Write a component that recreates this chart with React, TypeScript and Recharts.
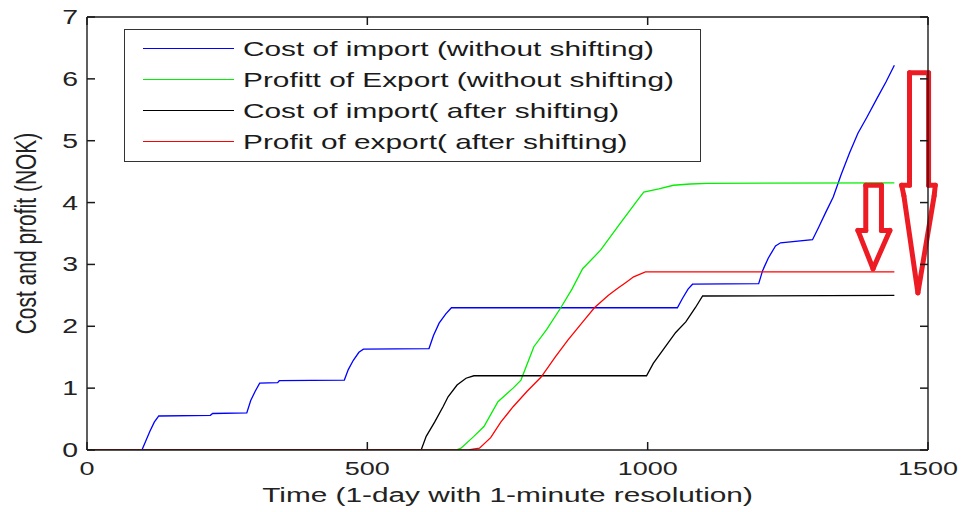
import type { JSX } from 'react';
import { LineChart, Line, XAxis, YAxis, Legend, Label, ReferenceLine } from 'recharts';

const xTicks = [0, 500, 1000, 1500];
const yTicks = [0, 1, 2, 3, 4, 5, 6, 7];

// minutes of the day / NOK
const importBeforeT = [0, 98, 105, 112, 120, 128, 220, 224, 285, 292, 300, 308, 340, 343, 459, 466, 475, 485, 493, 610, 618, 628, 640, 650, 1053, 1062, 1072, 1080, 1198, 1205, 1215, 1228, 1237, 1294, 1305, 1318, 1331, 1345, 1360, 1375, 1391, 1410, 1425, 1440];
const importBeforeV = [0, 0, 0.15, 0.3, 0.45, 0.55, 0.56, 0.59, 0.6, 0.8, 0.95, 1.08, 1.09, 1.12, 1.13, 1.3, 1.45, 1.58, 1.63, 1.64, 1.85, 2.05, 2.2, 2.3, 2.3, 2.45, 2.6, 2.68, 2.69, 2.9, 3.1, 3.3, 3.35, 3.4, 3.6, 3.85, 4.09, 4.45, 4.8, 5.12, 5.38, 5.7, 5.95, 6.22];

const exportBeforeT = [0, 658, 667, 690, 708, 733, 760, 774, 797, 820, 845, 865, 884, 916, 950, 982, 993, 1020, 1046, 1076, 1107, 1440];
const exportBeforeV = [0, 0, 0.03, 0.22, 0.38, 0.78, 1.0, 1.13, 1.67, 1.95, 2.3, 2.6, 2.93, 3.23, 3.65, 4.04, 4.17, 4.22, 4.28, 4.3, 4.31, 4.32];

const importAfterT = [0, 596, 605, 620, 635, 644, 660, 676, 690, 998, 1010, 1030, 1050, 1068, 1085, 1098, 1440];
const importAfterV = [0, 0, 0.22, 0.45, 0.7, 0.86, 1.05, 1.16, 1.2, 1.2, 1.4, 1.65, 1.9, 2.07, 2.3, 2.49, 2.5];

const exportAfterT = [0, 680, 700, 720, 738, 760, 785, 810, 835, 858, 885, 905, 930, 946, 960, 975, 996, 1440];
const exportAfterV = [0, 0, 0.03, 0.2, 0.45, 0.7, 0.95, 1.18, 1.5, 1.78, 2.08, 2.3, 2.5, 2.61, 2.7, 2.8, 2.88, 2.88];

// outline of the two red annotation arrows, in data units
const bigArrowT = [1467, 1501, 1501, 1513, 1511, 1482, 1457, 1453, 1467, 1467];
const bigArrowV = [6.1, 6.1, 4.28, 4.28, 4.11, 2.54, 4.11, 4.28, 4.28, 6.1];
const smallArrowT = [1389, 1417, 1417, 1432, 1402, 1375, 1389, 1389];
const smallArrowV = [4.28, 4.28, 3.55, 3.55, 2.93, 3.55, 3.55, 4.28];

const series = [
  { key: 'ib', name: 'Cost of import (without shifting)', color: '#0000ff', t: importBeforeT, v: importBeforeV },
  { key: 'eb', name: 'Profitt of Export (without shifting)', color: '#00f000', t: exportBeforeT, v: exportBeforeV },
  { key: 'ia', name: 'Cost of import( after shifting)', color: '#000000', t: importAfterT, v: importAfterV },
  { key: 'ea', name: 'Profit of export( after shifting)', color: '#ff0000', t: exportAfterT, v: exportAfterV },
];

const FONT = '"Liberation Sans", Arial, sans-serif';
const STRETCH = 1.42;
const AXIS = '#1a1a1a';
const TICK = 8;

function toPoints(t: number[], v: number[]) {
  return t.map((x, i) => ({ t: x, v: v[i] }));
}

function toSegments(t: number[], v: number[]) {
  const segs = [];
  for (let i = 0; i < t.length - 1; i++) {
    segs.push([{ x: t[i], y: v[i] }, { x: t[i + 1], y: v[i + 1] }]);
  }
  return segs;
}

// bottom: label sits 12px under the axis line, tick mark points up into the plot
function XTick({ x, y, payload }: any): JSX.Element {
  return (
    <g>
      <line x1={x} x2={x} y1={y - 12} y2={y - 12 - TICK} stroke={AXIS} strokeWidth={1.5} />
      <text transform={`translate(${x},${y}) scale(${STRETCH},1)`} textAnchor="middle" dy={13} fontSize={19} fontFamily={FONT} fill="#222">
        {payload.value}
      </text>
    </g>
  );
}

function YTick({ x, y, payload }: any): JSX.Element {
  return (
    <g>
      <line x1={x + 9} x2={x + 9 + TICK} y1={y} y2={y} stroke={AXIS} strokeWidth={1.5} />
      <text transform={`translate(${x},${y}) scale(${STRETCH},1)`} textAnchor="end" dy={7} fontSize={20} fontFamily={FONT} fill="#222">
        {payload.value}
      </text>
    </g>
  );
}

function TopTick({ x, y }: any): JSX.Element {
  return <line x1={x} x2={x} y1={y} y2={y + TICK} stroke={AXIS} strokeWidth={1.5} />;
}

function RightTick({ x, y }: any): JSX.Element {
  return <line x1={x} x2={x - TICK} y1={y} y2={y} stroke={AXIS} strokeWidth={1.5} />;
}

function XTitle({ viewBox }: any): JSX.Element {
  const cx = viewBox.x + viewBox.width / 2;
  return (
    <text transform={`translate(${cx},${viewBox.y + 52}) scale(${STRETCH},1)`} textAnchor="middle" fontSize={21} fontFamily={FONT} fill="#222">
      Time (1-day with 1-minute resolution)
    </text>
  );
}

function YTitle({ viewBox }: any): JSX.Element {
  const cy = viewBox.y + viewBox.height / 2;
  return (
    <text transform={`translate(26,${cy}) scale(${STRETCH},1) rotate(-90)`} textAnchor="middle" dy={7} fontSize={21} fontFamily={FONT} fill="#222">
      Cost and profit (NOK)
    </text>
  );
}

function LegendBox(): JSX.Element {
  return (
    <div style={{ width: 575, height: 128, border: '1.5px solid #333', background: '#fff', paddingTop: 3, boxSizing: 'content-box' }}>
      {series.map((s) => (
        <div key={s.key} style={{ height: 31, display: 'flex', alignItems: 'center' }}>
          <div style={{ marginLeft: 18, width: 91, height: 0, borderTop: `1.5px solid ${s.color}` }} />
          <span
            style={{
              marginLeft: 9,
              fontFamily: FONT,
              fontSize: 21,
              color: '#1a1a1a',
              whiteSpace: 'nowrap',
              display: 'inline-block',
              transform: `scaleX(${STRETCH})`,
              transformOrigin: 'left center',
            }}
          >
            {s.name}
          </span>
        </div>
      ))}
    </div>
  );
}

export default function App(): JSX.Element {
  return (
    <div style={{ position: 'absolute', left: 0, top: 0, width: 963, height: 512, background: '#fff' }}>
      <LineChart width={963} height={512} margin={{ top: 16, right: 34, bottom: 0, left: 0 }}>
        <XAxis
          dataKey="t"
          type="number"
          domain={[0, 1500]}
          ticks={xTicks}
          allowDataOverflow
          height={62}
          tickLine={false}
          tickSize={0}
          tickMargin={12}
          stroke={AXIS}
          strokeWidth={1.4}
          tick={<XTick />}
        >
          <Label content={<XTitle />} />
        </XAxis>
        <XAxis
          xAxisId="top"
          dataKey="t"
          orientation="top"
          type="number"
          domain={[0, 1500]}
          ticks={xTicks}
          allowDataOverflow
          height={1}
          tickLine={false}
          tickSize={0}
          tickMargin={0}
          tick={<TopTick />}
          stroke={AXIS}
          strokeWidth={1.4}
        />
        <YAxis
          type="number"
          domain={[0, 7]}
          ticks={yTicks}
          allowDataOverflow
          width={87}
          tickLine={false}
          tickSize={0}
          tickMargin={9}
          stroke={AXIS}
          strokeWidth={1.4}
          tick={<YTick />}
        >
          <Label content={<YTitle />} />
        </YAxis>
        <YAxis
          yAxisId="right"
          orientation="right"
          type="number"
          domain={[0, 7]}
          ticks={yTicks}
          allowDataOverflow
          width={1}
          tickLine={false}
          tickSize={0}
          tickMargin={0}
          tick={<RightTick />}
          stroke={AXIS}
          strokeWidth={1.4}
        />
        <Legend
          layout="vertical"
          align="center"
          verticalAlign="middle"
          wrapperStyle={{ top: 29, left: 124 }}
          content={() => <LegendBox />}
        />
        {/* invisible copy so the top and right frame axes get drawn */}
        <Line
          xAxisId="top"
          yAxisId="right"
          data={toPoints(importBeforeT, importBeforeV)}
          dataKey="v"
          stroke="none"
          legendType="none"
          dot={false}
          activeDot={false}
          isAnimationActive={false}
        />
        {series.map((s) => (
          <Line
            key={s.key}
            data={toPoints(s.t, s.v)}
            dataKey="v"
            name={s.name}
            type="linear"
            stroke={s.color}
            strokeWidth={1.3}
            dot={false}
            isAnimationActive={false}
          />
        ))}
        {[...toSegments(smallArrowT, smallArrowV), ...toSegments(bigArrowT, bigArrowV)].map((seg, i) => (
          <ReferenceLine
            key={`arrow-${i}`}
            segment={seg}
            ifOverflow="visible"
            stroke="#ed1c24"
            strokeWidth={5}
            strokeLinecap="round"
          />
        ))}
      </LineChart>
    </div>
  );
}
